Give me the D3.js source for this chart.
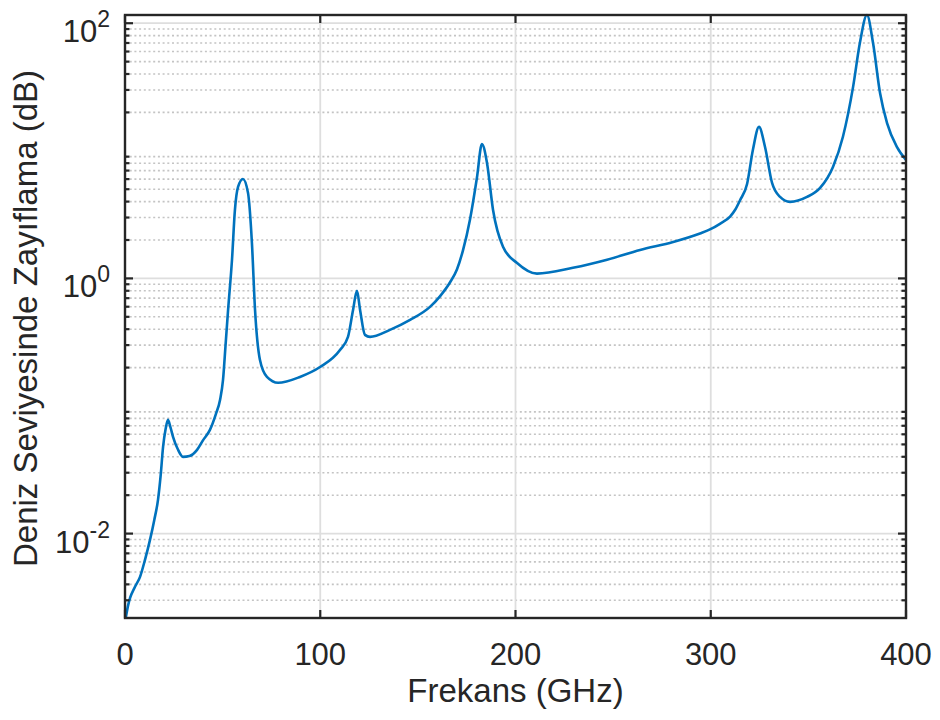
<!DOCTYPE html>
<html><head><meta charset="utf-8">
<script src="https://cdn.jsdelivr.net/npm/d3@7"></script>
<style>body{margin:0;background:#fff}svg{display:block}text{font-family:Arial,"Liberation Sans",Helvetica,sans-serif;fill:#262626}</style>
</head><body>
<svg id="c" width="940" height="720"></svg>
<script>
const freq = [0.4,1.5,2.6,5.0,7.7,10.2,12.8,15.0,16.9,18.3,19.5,20.8,22.0,23.3,24.6,27.0,29.7,33.0,36.9,40.0,43.5,46.5,48.7,50.2,51.5,52.8,54.8,56.3,57.9,60.4,63.0,65.0,66.6,69.1,72.7,78.4,89.6,99.9,110.1,114.2,116.8,118.8,120.4,122.9,125.5,135.7,146.0,156.2,161.3,166.5,170.0,173.1,176.7,180.3,182.8,185.4,188.5,193.6,200.8,211.0,229.4,246.9,263.8,280.7,294.5,299.6,304.7,309.9,312.5,315.0,318.6,321.6,324.7,327.8,331.4,335.5,340.6,349.3,356.0,362.6,367.7,372.9,376.4,380.0,383.1,386.7,390.3,395.4,400.0];
const atten = [0.00219,0.0027,0.00313,0.0038,0.00458,0.0062,0.00893,0.0128,0.0184,0.029,0.0478,0.066,0.0778,0.068,0.0573,0.046,0.0399,0.0405,0.0453,0.054,0.065,0.086,0.112,0.16,0.30,0.566,1.40,3.44,5.21,6.02,4.68,1.90,0.566,0.23,0.169,0.152,0.169,0.202,0.275,0.348,0.566,0.798,0.566,0.361,0.348,0.395,0.473,0.598,0.724,0.933,1.175,1.66,2.9,6.24,11.3,8.04,3.44,1.77,1.32,1.09,1.21,1.40,1.67,1.93,2.25,2.42,2.68,3.05,3.45,4.1,5.5,10.2,15.4,10.7,5.60,4.35,3.98,4.35,5.12,7.48,12.9,31.7,70.2,116,70.2,28.4,16.5,10.7,8.48];
const xTicks = [0,100,200,300,400];
const yMajor = [0.01,1,100];
const yLabels = [["10","-2"],["10","0"],["10","2"]];
const xLabel = "Frekans (GHz)";
const yLabel = "Deniz Seviyesinde Zayıflama (dB)";

const L=125,R=906,T=15,B=618;
const x = d3.scaleLinear().domain([0,400]).range([L,R]);
const y = d3.scaleLog().domain([0.00218,116]).range([B,T]);
const svg = d3.select("#c");
const minor=[];
[0.001,0.01,0.1,1,10,100].forEach(d=>{for(let k=2;k<=9;k++){const v=d*k; if(v>=y.domain()[0]&&v<=y.domain()[1]) minor.push(v);}});

const g = svg.append("g");
g.selectAll(".mg").data(minor).join("line").attr("x1",L).attr("x2",R)
 .attr("y1",d=>y(d)).attr("y2",d=>y(d)).attr("stroke","#c4c4c4").attr("stroke-width",1.6).attr("stroke-dasharray","2,2.7");
g.selectAll(".Mg").data(yMajor).join("line").attr("x1",L).attr("x2",R)
 .attr("y1",d=>y(d)).attr("y2",d=>y(d)).attr("stroke","#dedede").attr("stroke-width",1.8);
g.selectAll(".vg").data(xTicks.slice(1,-1)).join("line").attr("y1",T).attr("y2",B)
 .attr("x1",d=>x(d)).attr("x2",d=>x(d)).attr("stroke","#dedede").attr("stroke-width",1.8);

const line = d3.line().x((d,i)=>x(freq[i])).y((d,i)=>y(atten[i])).curve(d3.curveMonotoneX);
svg.append("path").datum(atten).attr("d",line).attr("fill","none").attr("stroke","#0072BD").attr("stroke-width",2.6).attr("stroke-linejoin","round");

const tk = svg.append("g").attr("stroke","#262626").attr("stroke-width",2.2);
xTicks.forEach(v=>{
  tk.append("line").attr("x1",x(v)).attr("x2",x(v)).attr("y1",B).attr("y2",B-8);
  tk.append("line").attr("x1",x(v)).attr("x2",x(v)).attr("y1",T).attr("y2",T+8);
});
yMajor.forEach(v=>{
  tk.append("line").attr("x1",L).attr("x2",L+8).attr("y1",y(v)).attr("y2",y(v));
  tk.append("line").attr("x1",R).attr("x2",R-8).attr("y1",y(v)).attr("y2",y(v));
});
minor.forEach(v=>{
  tk.append("line").attr("x1",L).attr("x2",L+4.5).attr("y1",y(v)).attr("y2",y(v));
  tk.append("line").attr("x1",R).attr("x2",R-4.5).attr("y1",y(v)).attr("y2",y(v));
});
svg.append("rect").attr("x",L).attr("y",T).attr("width",R-L).attr("height",B-T)
 .attr("fill","none").attr("stroke","#262626").attr("stroke-width",2.4);

svg.selectAll(".xl").data(xTicks).join("text").attr("x",d=>x(d)).attr("y",665)
 .attr("text-anchor","middle").attr("font-size",31).text(d=>d);
yMajor.forEach((v,i)=>{
  const t = svg.append("text").attr("x",110).attr("y",y(v)+19).attr("text-anchor","end").attr("font-size",31);
  t.append("tspan").text(yLabels[i][0]);
  t.append("tspan").attr("dy",-15).attr("font-size",23).text(yLabels[i][1]);
});
svg.append("text").attr("x",(L+R)/2).attr("y",702).attr("text-anchor","middle").attr("font-size",33).text(xLabel);
svg.append("text").attr("transform",`translate(37,${(T+B)/2+2}) rotate(-90)`).attr("text-anchor","middle").attr("font-size",33).text(yLabel);
</script>
</body></html>
